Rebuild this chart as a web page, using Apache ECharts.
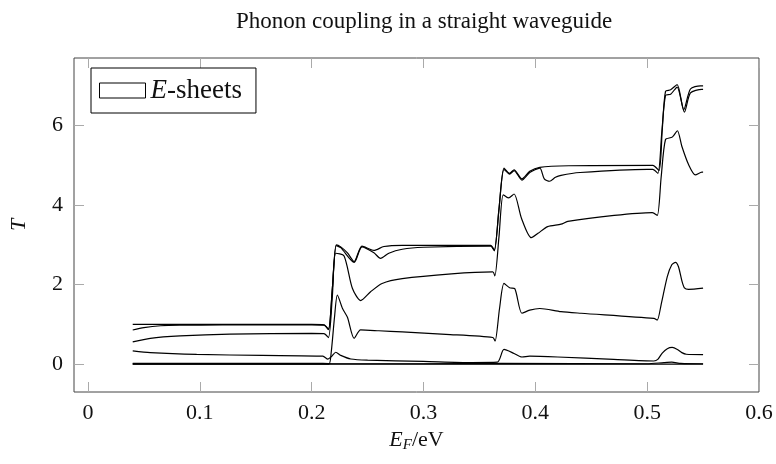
<!DOCTYPE html>
<html><head><meta charset="utf-8">
<script src="https://cdn.jsdelivr.net/npm/echarts@6/dist/echarts.min.js"></script>
<style>html,body{margin:0;padding:0;background:#fff}#c{width:776px;height:464px}</style>
</head><body><div id="c"></div>
<script>
const chartTitle = 'Phonon coupling in a straight waveguide';
const xTicks = [0, 0.1, 0.2, 0.3, 0.4, 0.5, 0.6];
const yTicks = [0, 2, 4, 6];

// sheet curves: [E_F, T]
const sheetA = [[0.04,1.0],[0.1,1.0],[0.2,1.0],[0.211,0.99],[0.215,0.88],[0.2185,1.9],[0.222,3.0],[0.226,2.95],[0.232,2.8],[0.238,2.58],[0.245,2.97],[0.2557,2.86],[0.2646,2.96],[0.281,2.99],[0.36,2.99],[0.3633,2.87],[0.3675,3.9],[0.372,4.93],[0.377,4.8],[0.381,4.89],[0.388,4.66],[0.395,4.85],[0.404,4.95],[0.43,4.99],[0.505,5.0],[0.5106,4.87],[0.5135,5.9],[0.5164,6.86],[0.521,6.9],[0.5268,7.03],[0.5327,6.4],[0.5387,6.92],[0.5476,7.0],[0.55,7.0]];
const sheetB = [[0.04,0.86],[0.05,0.92],[0.065,0.966],[0.082,0.98],[0.12,0.985],[0.2,0.99],[0.211,0.98],[0.215,0.87],[0.2185,1.9],[0.222,2.98],[0.226,2.93],[0.238,2.56],[0.245,2.95],[0.2557,2.8],[0.2616,2.66],[0.269,2.79],[0.281,2.89],[0.3,2.94],[0.36,2.97],[0.3633,2.85],[0.3675,3.9],[0.372,4.9],[0.377,4.78],[0.381,4.87],[0.388,4.63],[0.395,4.82],[0.404,4.93],[0.408,4.66],[0.4127,4.6],[0.418,4.7],[0.423,4.75],[0.44,4.82],[0.5,4.9],[0.505,4.9],[0.5096,4.8],[0.513,5.8],[0.5164,6.76],[0.521,6.79],[0.5268,6.97],[0.5333,6.34],[0.5387,6.82],[0.549,6.91],[0.55,6.91]];
const sheetC = [[0.04,0.56],[0.0557,0.65],[0.0824,0.71],[0.1268,0.756],[0.2,0.775],[0.211,0.77],[0.215,0.67],[0.2185,1.7],[0.2216,2.79],[0.229,2.72],[0.2364,1.91],[0.2438,1.6],[0.2527,1.82],[0.263,2.03],[0.281,2.15],[0.325,2.27],[0.362,2.32],[0.3638,2.22],[0.3675,3.2],[0.3713,4.26],[0.376,4.18],[0.381,4.28],[0.3876,3.67],[0.3964,3.18],[0.4024,3.29],[0.411,3.46],[0.423,3.52],[0.429,3.59],[0.4705,3.74],[0.5046,3.81],[0.509,3.74],[0.5125,4.7],[0.5164,5.65],[0.5224,5.71],[0.527,5.87],[0.531,5.48],[0.537,5.02],[0.5431,4.76],[0.549,4.83],[0.55,4.83]];
const sheetD = [[0.04,0.0],[0.21,0.0],[0.2155,0.0],[0.2175,0.3],[0.2205,1.2],[0.223,1.74],[0.2276,1.4],[0.232,1.18],[0.238,0.65],[0.2438,0.86],[0.26,0.84],[0.281,0.81],[0.32,0.75],[0.362,0.67],[0.364,0.58],[0.368,1.4],[0.372,2.03],[0.377,1.92],[0.3816,1.9],[0.388,1.28],[0.395,1.36],[0.404,1.4],[0.423,1.32],[0.441,1.28],[0.506,1.15],[0.509,1.11],[0.5125,1.5],[0.518,2.2],[0.522,2.5],[0.5253,2.56],[0.528,2.45],[0.531,2.1],[0.5333,1.92],[0.537,1.88],[0.55,1.91]];
const sheetE = [[0.04,0.335],[0.0557,0.29],[0.0972,0.244],[0.156,0.22],[0.21,0.2],[0.2145,0.125],[0.218,0.2],[0.2216,0.3],[0.226,0.22],[0.235,0.13],[0.25,0.1],[0.3,0.07],[0.343,0.04],[0.366,0.05],[0.372,0.37],[0.381,0.27],[0.388,0.18],[0.395,0.2],[0.42,0.18],[0.47,0.12],[0.506,0.08],[0.5095,0.12],[0.5135,0.28],[0.518,0.39],[0.5224,0.42],[0.527,0.37],[0.531,0.29],[0.535,0.25],[0.55,0.24]];
const sheetF = [[0.04,0.02],[0.21,0.02],[0.22,0.01],[0.3,0.01],[0.37,0.02],[0.5,0.01],[0.515,0.04],[0.522,0.05],[0.53,0.02],[0.55,0.01]];
const sheetG = [[0.04,0.0],[0.55,0.0]];

const sheets = [sheetA, sheetB, sheetC, sheetD, sheetE, sheetF, sheetG];
const FONT = '"Liberation Serif", "DejaVu Serif", serif';

const chart = echarts.init(document.getElementById('c'), null, {renderer: 'canvas'});
const series = sheets.map((d, i) => ({
  name: i === 0 ? 'E-sheets' : 'sheet' + i,
  type: 'line',
  data: d,
  showSymbol: false,
  smooth: 0.25,
  lineStyle: {color: '#000', width: 1.2},
  itemStyle: {color: '#000'},
  xAxisIndex: 0, yAxisIndex: 0,
  animation: false,
  z: 3
}));

const tickStyle = {lineStyle: {color: '#aaa', width: 1}};
chart.setOption({
  animation: false,
  title: {
    text: chartTitle, left: 419, top: 5, textAlign: 'center',
    textStyle: {fontFamily: FONT, fontSize: 23, fontWeight: 'normal', color: '#111'}
  },
  grid: {left: 70, right: 17, top: 58, bottom: 72, show: true, borderColor: '#444', borderWidth: 1, backgroundColor: 'transparent'},
  legend: {
    data: ['E-sheets'], left: 91, top: 68, orient: 'vertical',
    icon: 'rect', itemWidth: 46, itemHeight: 15, itemGap: 0,
    padding: [9, 14, 9, 8],
    borderColor: '#000', borderWidth: 1, backgroundColor: '#fff',
    itemStyle: {color: '#fff', borderColor: '#000', borderWidth: 1},
    formatter: () => '{i|E}-sheets',
    textStyle: {fontFamily: FONT, fontSize: 27, color: '#111', lineHeight: 27,
      rich: {i: {fontFamily: FONT, fontSize: 27, fontStyle: 'italic', color: '#111', lineHeight: 27}}}
  },
  xAxis: [{
    type: 'value', min: -0.0125, max: 0.6, position: 'bottom',
    name: '{i|E}{s|F}/eV', nameLocation: 'middle', nameGap: 35,
    nameTextStyle: {fontFamily: FONT, fontSize: 22, color: '#111',
      rich: {i: {fontFamily: FONT, fontSize: 22, fontStyle: 'italic', color: '#111'},
             s: {fontFamily: FONT, fontSize: 15, fontStyle: 'italic', color: '#111', verticalAlign: 'bottom', padding: [10,0,0,0]}}},
    axisLine: {show: false, onZero: false},
    axisTick: {show: true, inside: true, length: 10, customValues: xTicks, ...tickStyle},
    axisLabel: {customValues: xTicks, margin: 10, fontFamily: FONT, fontSize: 22, color: '#111'},
    splitLine: {show: false}
  }, {
    type: 'value', min: -0.0125, max: 0.6, position: 'top',
    axisLine: {show: false, onZero: false},
    axisTick: {show: true, inside: true, length: 10, customValues: xTicks, ...tickStyle},
    axisLabel: {show: false}, splitLine: {show: false}
  }],
  yAxis: [{
    type: 'value', min: -0.7, max: 7.7, position: 'left',
    name: 'T', nameLocation: 'middle', nameGap: 44,
    nameTextStyle: {fontFamily: FONT, fontSize: 22, fontStyle: 'italic', color: '#111'},
    axisLine: {show: false, onZero: false},
    axisTick: {show: true, inside: true, length: 10, customValues: yTicks, ...tickStyle},
    axisLabel: {customValues: yTicks, margin: 11, fontFamily: FONT, fontSize: 22, color: '#111'},
    splitLine: {show: false}
  }, {
    type: 'value', min: -0.7, max: 7.7, position: 'right',
    axisLine: {show: false, onZero: false},
    axisTick: {show: true, inside: true, length: 10, customValues: yTicks, ...tickStyle},
    axisLabel: {show: false}, splitLine: {show: false}
  }],
  series: series
});
</script></body></html>
